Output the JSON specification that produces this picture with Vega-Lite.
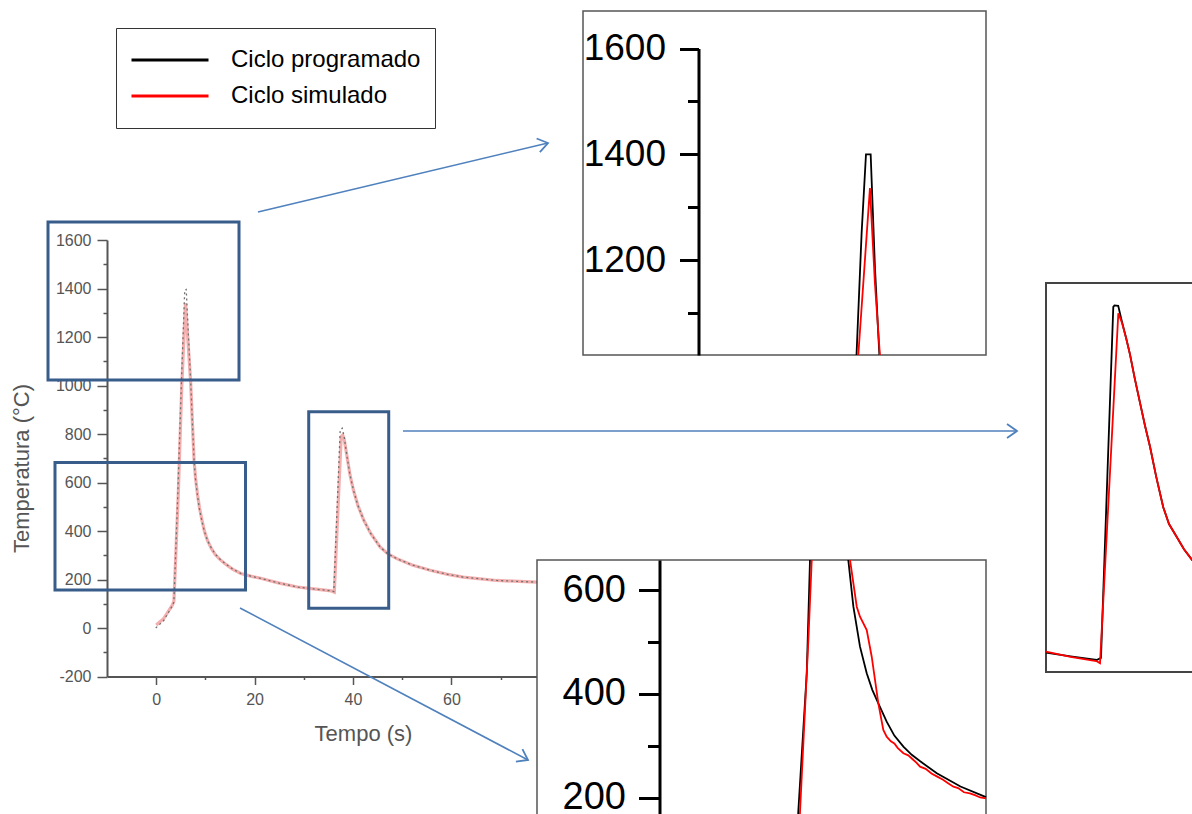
{
  "$schema": "https://vega.github.io/schema/vega-lite/v6.json",
  "width": 1192,
  "height": 814,
  "padding": 0,
  "autosize": {"type": "none"},
  "background": "white",
  "config": {
    "view": {"stroke": null},
    "font": "Liberation Sans",
    "axis": {"grid": false, "labelFont": "Liberation Sans", "titleFont": "Liberation Sans", "labelOverlap": false, "labelFlush": false, "labelBound": false}
  },
  "datasets": {
    "main": [
      {"t": -0.1, "v": 0, "s": "Ciclo programado"}, {"t": 1.5, "v": 30, "s": "Ciclo programado"}, {"t": 3.3, "v": 92, "s": "Ciclo programado"}, {"t": 3.6, "v": 108, "s": "Ciclo programado"}, {"t": 4.4, "v": 560, "s": "Ciclo programado"}, {"t": 5.1, "v": 1000, "s": "Ciclo programado"}, {"t": 5.8, "v": 1394, "s": "Ciclo programado"}, {"t": 6.1, "v": 1396, "s": "Ciclo programado"}, {"t": 7.0, "v": 1022, "s": "Ciclo programado"}, {"t": 7.35, "v": 850, "s": "Ciclo programado"}, {"t": 7.7, "v": 690, "s": "Ciclo programado"}, {"t": 8.0, "v": 612, "s": "Ciclo programado"}, {"t": 8.4, "v": 545, "s": "Ciclo programado"}, {"t": 8.8, "v": 490, "s": "Ciclo programado"}, {"t": 9.3, "v": 440, "s": "Ciclo programado"}, {"t": 9.8, "v": 398, "s": "Ciclo programado"}, {"t": 10.4, "v": 362, "s": "Ciclo programado"}, {"t": 11.2, "v": 330, "s": "Ciclo programado"}, {"t": 12.0, "v": 305, "s": "Ciclo programado"}, {"t": 13.0, "v": 283, "s": "Ciclo programado"}, {"t": 14.0, "v": 266, "s": "Ciclo programado"}, {"t": 15.5, "v": 244, "s": "Ciclo programado"}, {"t": 17.2, "v": 225, "s": "Ciclo programado"}, {"t": 19.2, "v": 214, "s": "Ciclo programado"}, {"t": 21.2, "v": 205, "s": "Ciclo programado"}, {"t": 25.0, "v": 185, "s": "Ciclo programado"}, {"t": 28.7, "v": 169, "s": "Ciclo programado"}, {"t": 32.0, "v": 161, "s": "Ciclo programado"}, {"t": 35.6, "v": 153, "s": "Ciclo programado"}, {"t": 36.1, "v": 150, "s": "Ciclo programado"}, {"t": 37.4, "v": 818, "s": "Ciclo programado"}, {"t": 37.8, "v": 824, "s": "Ciclo programado"}, {"t": 38.2, "v": 790, "s": "Ciclo programado"}, {"t": 38.8, "v": 705, "s": "Ciclo programado"}, {"t": 39.4, "v": 630, "s": "Ciclo programado"}, {"t": 40.1, "v": 568, "s": "Ciclo programado"}, {"t": 41.0, "v": 505, "s": "Ciclo programado"}, {"t": 42.2, "v": 444, "s": "Ciclo programado"}, {"t": 43.6, "v": 390, "s": "Ciclo programado"}, {"t": 45.5, "v": 334, "s": "Ciclo programado"}, {"t": 47.0, "v": 307, "s": "Ciclo programado"}, {"t": 48.9, "v": 286, "s": "Ciclo programado"}, {"t": 52.0, "v": 260, "s": "Ciclo programado"}, {"t": 55.7, "v": 238, "s": "Ciclo programado"}, {"t": 59.0, "v": 222, "s": "Ciclo programado"}, {"t": 62.4, "v": 210, "s": "Ciclo programado"}, {"t": 69.2, "v": 196, "s": "Ciclo programado"}, {"t": 77.3, "v": 189, "s": "Ciclo programado"}, {"t": 80, "v": 187, "s": "Ciclo programado"},
      {"t": 0, "v": 12, "s": "Ciclo simulado"}, {"t": 1.5, "v": 38, "s": "Ciclo simulado"}, {"t": 3.3, "v": 95, "s": "Ciclo simulado"}, {"t": 3.6, "v": 110, "s": "Ciclo simulado"}, {"t": 4.5, "v": 560, "s": "Ciclo simulado"}, {"t": 5.2, "v": 1000, "s": "Ciclo simulado"}, {"t": 5.95, "v": 1340, "s": "Ciclo simulado"}, {"t": 7.0, "v": 1015, "s": "Ciclo simulado"}, {"t": 7.35, "v": 850, "s": "Ciclo simulado"}, {"t": 7.7, "v": 690, "s": "Ciclo simulado"}, {"t": 8.0, "v": 618, "s": "Ciclo simulado"}, {"t": 8.4, "v": 550, "s": "Ciclo simulado"}, {"t": 8.8, "v": 495, "s": "Ciclo simulado"}, {"t": 9.3, "v": 445, "s": "Ciclo simulado"}, {"t": 9.8, "v": 400, "s": "Ciclo simulado"}, {"t": 10.4, "v": 362, "s": "Ciclo simulado"}, {"t": 11.2, "v": 328, "s": "Ciclo simulado"}, {"t": 12.0, "v": 303, "s": "Ciclo simulado"}, {"t": 13.0, "v": 282, "s": "Ciclo simulado"}, {"t": 14.0, "v": 265, "s": "Ciclo simulado"}, {"t": 15.5, "v": 243, "s": "Ciclo simulado"}, {"t": 17.2, "v": 225, "s": "Ciclo simulado"}, {"t": 19.2, "v": 214, "s": "Ciclo simulado"}, {"t": 21.2, "v": 205, "s": "Ciclo simulado"}, {"t": 25.0, "v": 185, "s": "Ciclo simulado"}, {"t": 28.7, "v": 169, "s": "Ciclo simulado"}, {"t": 32.0, "v": 161, "s": "Ciclo simulado"}, {"t": 35.6, "v": 153, "s": "Ciclo simulado"}, {"t": 36.2, "v": 148, "s": "Ciclo simulado"}, {"t": 37.6, "v": 790, "s": "Ciclo simulado"}, {"t": 37.9, "v": 795, "s": "Ciclo simulado"}, {"t": 38.2, "v": 780, "s": "Ciclo simulado"}, {"t": 38.8, "v": 705, "s": "Ciclo simulado"}, {"t": 39.4, "v": 630, "s": "Ciclo simulado"}, {"t": 40.1, "v": 568, "s": "Ciclo simulado"}, {"t": 41.0, "v": 505, "s": "Ciclo simulado"}, {"t": 42.2, "v": 444, "s": "Ciclo simulado"}, {"t": 43.6, "v": 390, "s": "Ciclo simulado"}, {"t": 45.5, "v": 334, "s": "Ciclo simulado"}, {"t": 47.0, "v": 307, "s": "Ciclo simulado"}, {"t": 48.9, "v": 286, "s": "Ciclo simulado"}, {"t": 52.0, "v": 260, "s": "Ciclo simulado"}, {"t": 55.7, "v": 238, "s": "Ciclo simulado"}, {"t": 59.0, "v": 222, "s": "Ciclo simulado"}, {"t": 62.4, "v": 210, "s": "Ciclo simulado"}, {"t": 69.2, "v": 196, "s": "Ciclo simulado"}, {"t": 77.3, "v": 189, "s": "Ciclo simulado"}, {"t": 80, "v": 187, "s": "Ciclo simulado"}
    ],
    "top": [
      {"t": 5.0, "v": 1020.6, "s": "Ciclo programado"}, {"t": 5.49, "v": 1251, "s": "Ciclo programado"}, {"t": 5.91, "v": 1400, "s": "Ciclo programado"}, {"t": 6.36, "v": 1400, "s": "Ciclo programado"}, {"t": 6.77, "v": 1187, "s": "Ciclo programado"}, {"t": 7.09, "v": 1061, "s": "Ciclo programado"}, {"t": 7.2, "v": 1020.6, "s": "Ciclo programado"},
      {"t": 5.17, "v": 1020.6, "s": "Ciclo simulado"}, {"t": 6.29, "v": 1336, "s": "Ciclo simulado"}, {"t": 6.77, "v": 1156, "s": "Ciclo simulado"}, {"t": 7.25, "v": 1020.6, "s": "Ciclo simulado"}
    ],
    "right": [
      {"t": 31.2, "v": 164, "s": "Ciclo programado"}, {"t": 33.5, "v": 157, "s": "Ciclo programado"}, {"t": 35.94, "v": 150, "s": "Ciclo programado"}, {"t": 36.34, "v": 154, "s": "Ciclo programado"}, {"t": 37.49, "v": 820, "s": "Ciclo programado"}, {"t": 37.6, "v": 823, "s": "Ciclo programado"}, {"t": 37.95, "v": 822, "s": "Ciclo programado"}, {"t": 38.3, "v": 792, "s": "Ciclo programado"}, {"t": 38.7, "v": 760, "s": "Ciclo programado"}, {"t": 39.05, "v": 730, "s": "Ciclo programado"}, {"t": 39.5, "v": 684, "s": "Ciclo programado"}, {"t": 40.0, "v": 637, "s": "Ciclo programado"}, {"t": 40.45, "v": 595, "s": "Ciclo programado"}, {"t": 40.92, "v": 555, "s": "Ciclo programado"}, {"t": 41.5, "v": 498, "s": "Ciclo programado"}, {"t": 42.16, "v": 440, "s": "Ciclo programado"}, {"t": 42.7, "v": 408, "s": "Ciclo programado"}, {"t": 43.41, "v": 384, "s": "Ciclo programado"}, {"t": 44.1, "v": 360, "s": "Ciclo programado"}, {"t": 44.85, "v": 340, "s": "Ciclo programado"}, {"t": 46.5, "v": 303, "s": "Ciclo programado"}, {"t": 48, "v": 280, "s": "Ciclo programado"},
      {"t": 31.2, "v": 166, "s": "Ciclo simulado"}, {"t": 33.5, "v": 156, "s": "Ciclo simulado"}, {"t": 35.9, "v": 148, "s": "Ciclo simulado"}, {"t": 36.25, "v": 144, "s": "Ciclo simulado"}, {"t": 37.96, "v": 808, "s": "Ciclo simulado"}, {"t": 38.3, "v": 790, "s": "Ciclo simulado"}, {"t": 38.7, "v": 760, "s": "Ciclo simulado"}, {"t": 39.05, "v": 730, "s": "Ciclo simulado"}, {"t": 39.5, "v": 684, "s": "Ciclo simulado"}, {"t": 40.0, "v": 637, "s": "Ciclo simulado"}, {"t": 40.45, "v": 595, "s": "Ciclo simulado"}, {"t": 40.92, "v": 555, "s": "Ciclo simulado"}, {"t": 41.5, "v": 498, "s": "Ciclo simulado"}, {"t": 42.16, "v": 440, "s": "Ciclo simulado"}, {"t": 42.7, "v": 408, "s": "Ciclo simulado"}, {"t": 43.41, "v": 384, "s": "Ciclo simulado"}, {"t": 44.1, "v": 360, "s": "Ciclo simulado"}, {"t": 44.85, "v": 340, "s": "Ciclo simulado"}, {"t": 46.5, "v": 303, "s": "Ciclo simulado"}, {"t": 48, "v": 280, "s": "Ciclo simulado"}
    ],
    "bottom": [
      {"t": 3.45, "v": 140, "s": "Ciclo programado", "seg": "a"}, {"t": 3.52, "v": 173.6, "s": "Ciclo programado", "seg": "a"}, {"t": 4.25, "v": 439.8, "s": "Ciclo programado", "seg": "a"}, {"t": 4.53, "v": 657.7, "s": "Ciclo programado", "seg": "a"},
      {"t": 7.83, "v": 657.7, "s": "Ciclo programado", "seg": "b"}, {"t": 8.27, "v": 567.9, "s": "Ciclo programado", "seg": "b"}, {"t": 8.84, "v": 491, "s": "Ciclo programado", "seg": "b"}, {"t": 9.42, "v": 439.8, "s": "Ciclo programado", "seg": "b"}, {"t": 9.9, "v": 408, "s": "Ciclo programado", "seg": "b"}, {"t": 10.42, "v": 382.1, "s": "Ciclo programado", "seg": "b"}, {"t": 11.14, "v": 346.7, "s": "Ciclo programado", "seg": "b"}, {"t": 11.8, "v": 320, "s": "Ciclo programado", "seg": "b"}, {"t": 12.58, "v": 298.7, "s": "Ciclo programado", "seg": "b"}, {"t": 13.3, "v": 283, "s": "Ciclo programado", "seg": "b"}, {"t": 14.0, "v": 271, "s": "Ciclo programado", "seg": "b"}, {"t": 15.46, "v": 247.5, "s": "Ciclo programado", "seg": "b"}, {"t": 17.5, "v": 222, "s": "Ciclo programado", "seg": "b"}, {"t": 19.7, "v": 201.8, "s": "Ciclo programado", "seg": "b"},
      {"t": 3.6, "v": 140, "s": "Ciclo simulado", "seg": "a"}, {"t": 3.67, "v": 173.6, "s": "Ciclo simulado", "seg": "a"}, {"t": 4.39, "v": 503.8, "s": "Ciclo simulado", "seg": "a"}, {"t": 4.68, "v": 657.7, "s": "Ciclo simulado", "seg": "a"},
      {"t": 7.98, "v": 657.7, "s": "Ciclo simulado", "seg": "b"}, {"t": 8.56, "v": 567.9, "s": "Ciclo simulado", "seg": "b"}, {"t": 8.84, "v": 548.7, "s": "Ciclo simulado", "seg": "b"}, {"t": 9.42, "v": 523, "s": "Ciclo simulado", "seg": "b"}, {"t": 9.85, "v": 471.7, "s": "Ciclo simulado", "seg": "b"}, {"t": 10.42, "v": 382.1, "s": "Ciclo simulado", "seg": "b"}, {"t": 10.85, "v": 330.8, "s": "Ciclo simulado", "seg": "b"}, {"t": 11.14, "v": 317.9, "s": "Ciclo simulado", "seg": "b"}, {"t": 11.5, "v": 309, "s": "Ciclo simulado", "seg": "b"}, {"t": 11.8, "v": 305, "s": "Ciclo simulado", "seg": "b"}, {"t": 12.1, "v": 296, "s": "Ciclo simulado", "seg": "b"}, {"t": 12.58, "v": 286, "s": "Ciclo simulado", "seg": "b"}, {"t": 13.0, "v": 282, "s": "Ciclo simulado", "seg": "b"}, {"t": 13.4, "v": 274, "s": "Ciclo simulado", "seg": "b"}, {"t": 13.7, "v": 268, "s": "Ciclo simulado", "seg": "b"}, {"t": 14.02, "v": 260.2, "s": "Ciclo simulado", "seg": "b"}, {"t": 14.5, "v": 256, "s": "Ciclo simulado", "seg": "b"}, {"t": 15.0, "v": 247, "s": "Ciclo simulado", "seg": "b"}, {"t": 15.5, "v": 241, "s": "Ciclo simulado", "seg": "b"}, {"t": 16.0, "v": 235, "s": "Ciclo simulado", "seg": "b"}, {"t": 16.4, "v": 229, "s": "Ciclo simulado", "seg": "b"}, {"t": 16.89, "v": 221.7, "s": "Ciclo simulado", "seg": "b"}, {"t": 17.3, "v": 219, "s": "Ciclo simulado", "seg": "b"}, {"t": 17.8, "v": 211, "s": "Ciclo simulado", "seg": "b"}, {"t": 18.32, "v": 209, "s": "Ciclo simulado", "seg": "b"}, {"t": 18.8, "v": 205, "s": "Ciclo simulado", "seg": "b"}, {"t": 19.2, "v": 201, "s": "Ciclo simulado", "seg": "b"}, {"t": 19.7, "v": 199.4, "s": "Ciclo simulado", "seg": "b"}
    ],
    "boxes": [
      {"box": "b1", "x0": -21.99, "x1": 16.83, "y0": 1022.7, "y1": 1674.2},
      {"box": "b2", "x0": 31.0, "x1": 47.26, "y0": 81.2, "y1": 891.9},
      {"box": "b3", "x0": -20.57, "x1": 18.15, "y0": 156.7, "y1": 682.5}
    ],
    "arrows": [
      {"arrow": "a1", "t": 20.69, "v": 1715.5, "tip": 0}, {"arrow": "a1", "t": 79.63, "v": 2000, "tip": 1},
      {"arrow": "a2", "t": 50.16, "v": 812.4, "tip": 0}, {"arrow": "a2", "t": 174.96, "v": 812.4, "tip": 1},
      {"arrow": "a3", "t": 17.03, "v": 82.5, "tip": 0}, {"arrow": "a3", "t": 75.57, "v": -544.3, "tip": 1}
    ],
    "frames": [
      {"panel": "top", "x0": -21.3, "x1": 17.45, "y0": 1020.6, "y1": 1670.9},
      {"panel": "right", "x0": 31.2, "x1": 50, "y0": 127.2, "y1": 865.4},
      {"panel": "bottom", "x0": -19.0, "x1": 19.7, "y0": 150, "y1": 657.7}
    ]
  },
  "layer": [
    {
      "data": {"name": "main"},
      "transform": [{"filter": "datum.s === 'Ciclo simulado'"}],
      "mark": {"type": "line", "color": "#f09a9a", "strokeWidth": 3.2, "opacity": 0.8},
      "encoding": {
        "x": {"field": "t", "type": "quantitative", "scale": {"domain": [-10, 80], "range": [107, 549.8], "nice": false, "zero": false},
          "axis": {"orient": "bottom", "offset": -137.5, "values": [0, 10, 20, 30, 40, 50, 60, 70, 80], "labelExpr": "datum.value % 20 === 0 ? '' + datum.value : ''",
            "tickSize": {"condition": {"test": "datum.value % 20 === 0", "value": 8}, "value": 3}, "tickWidth": 1.5, "tickColor": "#555", "domainColor": "#555", "domainWidth": 2,
            "labelPadding": 7, "labelFontSize": 16, "labelColor": "#555", "title": "Tempo (s)", "titleFontSize": 22, "titleFontWeight": "normal", "titleColor": "#555",
            "titleX": 363, "titleY": 64, "titleBaseline": "alphabetic", "titleAlign": "center", "zindex": 0}},
        "y": {"field": "v", "type": "quantitative", "scale": {"domain": [-200, 1600], "range": [676.5, 240], "nice": false, "zero": false},
          "axis": {"orient": "left", "offset": -107, "values": [-200, -100, 0, 100, 200, 300, 400, 500, 600, 700, 800, 900, 1000, 1100, 1200, 1300, 1400, 1500, 1600], "labelExpr": "datum.value % 200 === 0 ? '' + datum.value : ''",
            "tickSize": {"condition": {"test": "datum.value % 200 === 0", "value": 10}, "value": 4}, "tickWidth": 1.5, "tickColor": "#555", "domainColor": "#555", "domainWidth": 2,
            "labelPadding": 6, "labelFontSize": 16, "labelColor": "#555", "title": "Temperatura (°C)", "titleFontSize": 22, "titleFontWeight": "normal", "titleColor": "#555",
            "titleX": -79, "titleY": 468, "titleAngle": 270, "titleBaseline": "alphabetic", "titleAlign": "center", "zindex": 0}}
      }
    },
    {
      "data": {"name": "main"},
      "transform": [{"filter": "datum.s === 'Ciclo programado'"}],
      "mark": {"type": "line", "color": "#707070", "strokeWidth": 1.3, "strokeDash": [2, 3]},
      "encoding": {
        "x": {"field": "t", "type": "quantitative", "scale": {"domain": [-10, 80], "range": [107, 549.8], "nice": false, "zero": false}, "axis": null},
        "y": {"field": "v", "type": "quantitative", "scale": {"domain": [-200, 1600], "range": [676.5, 240], "nice": false, "zero": false}, "axis": null}
      }
    },
    {
      "data": {"name": "boxes"},
      "mark": {"type": "rect", "filled": false, "color": "#385d8a", "strokeWidth": 3},
      "encoding": {
        "x": {"field": "x0", "type": "quantitative", "scale": {"domain": [-10, 80], "range": [107, 549.8], "nice": false, "zero": false}, "axis": null},
        "x2": {"field": "x1"},
        "y": {"field": "y0", "type": "quantitative", "scale": {"domain": [-200, 1600], "range": [676.5, 240], "nice": false, "zero": false}, "axis": null},
        "y2": {"field": "y1"}
      }
    },
    {
      "data": {"name": "arrows"},
      "mark": {"type": "line", "color": "#4f81bd", "strokeWidth": 1.6},
      "encoding": {
        "x": {"field": "t", "type": "quantitative", "scale": {"domain": [-10, 80], "range": [107, 549.8], "nice": false, "zero": false}, "axis": null},
        "y": {"field": "v", "type": "quantitative", "scale": {"domain": [-200, 1600], "range": [676.5, 240], "nice": false, "zero": false}, "axis": null},
        "detail": {"field": "arrow"}
      }
    },
    {
      "data": {"name": "arrows"},
      "transform": [{"filter": "datum.arrow === 'a1' && datum.tip === 1"}],
      "mark": {"type": "point", "shape": "M-1,-0.7L0,0L-1,0.7", "filled": false, "color": "#4f81bd", "strokeWidth": 1.8, "size": 400, "opacity": 1, "angle": -13.4},
      "encoding": {
        "x": {"field": "t", "type": "quantitative", "scale": {"domain": [-10, 80], "range": [107, 549.8], "nice": false, "zero": false}, "axis": null},
        "y": {"field": "v", "type": "quantitative", "scale": {"domain": [-200, 1600], "range": [676.5, 240], "nice": false, "zero": false}, "axis": null}
      }
    },
    {
      "data": {"name": "arrows"},
      "transform": [{"filter": "datum.arrow === 'a2' && datum.tip === 1"}],
      "mark": {"type": "point", "shape": "M-1,-0.7L0,0L-1,0.7", "filled": false, "color": "#4f81bd", "strokeWidth": 1.8, "size": 400, "opacity": 1, "angle": 0},
      "encoding": {
        "x": {"field": "t", "type": "quantitative", "scale": {"domain": [-10, 80], "range": [107, 549.8], "nice": false, "zero": false}, "axis": null},
        "y": {"field": "v", "type": "quantitative", "scale": {"domain": [-200, 1600], "range": [676.5, 240], "nice": false, "zero": false}, "axis": null}
      }
    },
    {
      "data": {"name": "arrows"},
      "transform": [{"filter": "datum.arrow === 'a3' && datum.tip === 1"}],
      "mark": {"type": "point", "shape": "M-1,-0.7L0,0L-1,0.7", "filled": false, "color": "#4f81bd", "strokeWidth": 1.8, "size": 400, "opacity": 1, "angle": 27.8},
      "encoding": {
        "x": {"field": "t", "type": "quantitative", "scale": {"domain": [-10, 80], "range": [107, 549.8], "nice": false, "zero": false}, "axis": null},
        "y": {"field": "v", "type": "quantitative", "scale": {"domain": [-200, 1600], "range": [676.5, 240], "nice": false, "zero": false}, "axis": null}
      }
    },
    {
      "data": {"name": "frames"},
      "transform": [{"filter": "datum.panel === 'top'"}],
      "mark": {"type": "rect", "fill": "white", "stroke": "#555", "strokeWidth": 1.5},
      "encoding": {
        "x": {"field": "x0", "type": "quantitative", "scale": {"domain": [-21.3, 17.45], "range": [583, 986], "nice": false, "zero": false}, "axis": null},
        "x2": {"field": "x1"},
        "y": {"field": "y0", "type": "quantitative", "scale": {"domain": [1020.6, 1600], "range": [355, 48.5], "nice": false, "zero": false}, "axis": null},
        "y2": {"field": "y1"}
      }
    },
    {
      "data": {"name": "top"},
      "mark": {"type": "line", "strokeWidth": 1.8},
      "encoding": {
        "x": {"field": "t", "type": "quantitative", "scale": {"domain": [-21.3, 17.45], "range": [583, 986], "nice": false, "zero": false}, "axis": null},
        "y": {"field": "v", "type": "quantitative", "scale": {"domain": [1020.6, 1600], "range": [355, 48.5], "nice": false, "zero": false},
          "axis": {"orient": "left", "offset": -698.5, "values": [1100, 1200, 1300, 1400, 1500, 1600], "labelExpr": "datum.value % 200 === 0 ? '' + datum.value : ''",
            "tickSize": {"condition": {"test": "datum.value % 200 === 0", "value": 19}, "value": 11}, "tickWidth": 3, "tickColor": "#000", "domainColor": "#000", "domainWidth": 3,
            "labelPadding": 14, "labelFontSize": 37, "labelColor": "#000", "title": null, "zindex": 1}},
        "color": {"field": "s", "type": "nominal", "scale": {"domain": ["Ciclo programado", "Ciclo simulado"], "range": ["#000000", "#ff0000"]},
          "legend": {"orient": "none", "legendX": 116, "legendY": 28, "title": null, "padding": 14, "strokeColor": "#333", "fillColor": "white",
            "symbolType": "stroke", "symbolSize": 5929, "symbolStrokeWidth": 3, "labelFontSize": 24, "labelFont": "Liberation Sans", "labelColor": "#000",
            "labelOffset": 21, "rowPadding": 0, "clipHeight": 36, "labelLimit": 0}}
      }
    },
    {
      "data": {"name": "frames"},
      "transform": [{"filter": "datum.panel === 'right'"}],
      "mark": {"type": "rect", "fill": "white", "stroke": "#444", "strokeWidth": 2},
      "encoding": {
        "x": {"field": "x0", "type": "quantitative", "scale": {"domain": [31.2, 47.4], "range": [1046, 1219.3], "nice": false, "zero": false}, "axis": null},
        "x2": {"field": "x1"},
        "y": {"field": "y0", "type": "quantitative", "scale": {"domain": [127.2, 865.4], "range": [672, 283], "nice": false, "zero": false}, "axis": null},
        "y2": {"field": "y1"}
      }
    },
    {
      "data": {"name": "right"},
      "mark": {"type": "line", "strokeWidth": 1.8},
      "encoding": {
        "x": {"field": "t", "type": "quantitative", "scale": {"domain": [31.2, 47.4], "range": [1046, 1219.3], "nice": false, "zero": false}, "axis": null},
        "y": {"field": "v", "type": "quantitative", "scale": {"domain": [127.2, 865.4], "range": [672, 283], "nice": false, "zero": false}, "axis": null},
        "color": {"field": "s", "type": "nominal", "scale": {"domain": ["Ciclo programado", "Ciclo simulado"], "range": ["#000000", "#ff0000"]}}
      }
    },
    {
      "data": {"name": "frames"},
      "transform": [{"filter": "datum.panel === 'bottom'"}],
      "mark": {"type": "rect", "fill": "white", "stroke": "#555", "strokeWidth": 1.5},
      "encoding": {
        "x": {"field": "x0", "type": "quantitative", "scale": {"domain": [-19.0, 19.7], "range": [537, 986], "nice": false, "zero": false}, "axis": null},
        "x2": {"field": "x1"},
        "y": {"field": "y0", "type": "quantitative", "scale": {"domain": [169.2, 657.7], "range": [814, 560], "nice": false, "zero": false}, "axis": null},
        "y2": {"field": "y1"}
      }
    },
    {
      "data": {"name": "bottom"},
      "mark": {"type": "line", "strokeWidth": 1.8},
      "encoding": {
        "x": {"field": "t", "type": "quantitative", "scale": {"domain": [-19.0, 19.7], "range": [537, 986], "nice": false, "zero": false}, "axis": null},
        "y": {"field": "v", "type": "quantitative", "scale": {"domain": [169.2, 657.7], "range": [814, 560], "nice": false, "zero": false},
          "axis": {"orient": "left", "offset": -659.5, "values": [200, 300, 400, 500, 600], "labelExpr": "datum.value % 200 === 0 ? '' + datum.value : ''",
            "tickSize": {"condition": {"test": "datum.value % 200 === 0", "value": 21}, "value": 12}, "tickWidth": 3, "tickColor": "#000", "domainColor": "#000", "domainWidth": 3,
            "labelPadding": 13, "labelFontSize": 38, "labelColor": "#000", "title": null, "zindex": 1}},
        "color": {"field": "s", "type": "nominal", "scale": {"domain": ["Ciclo programado", "Ciclo simulado"], "range": ["#000000", "#ff0000"]}},
        "detail": {"field": "seg"}
      }
    }
  ],
  "resolve": {
    "scale": {"x": "independent", "y": "independent"},
    "axis": {"x": "independent", "y": "independent"}
  }
}
